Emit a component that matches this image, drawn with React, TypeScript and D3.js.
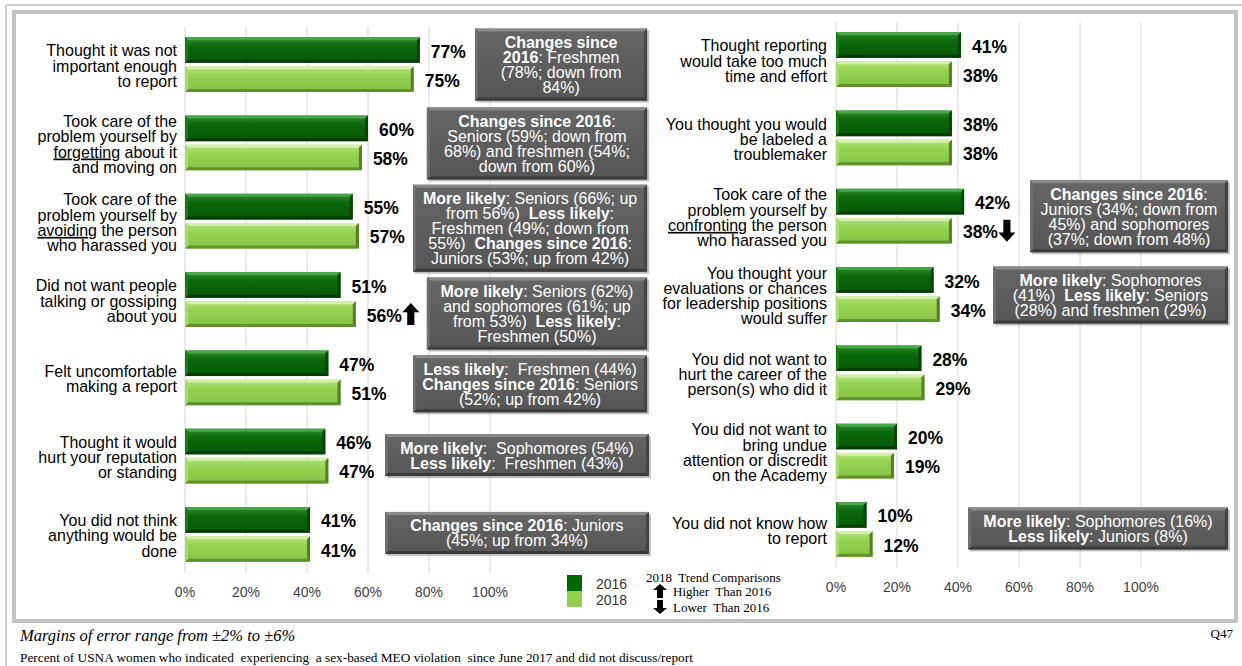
import React from "react";
import * as d3 from "d3";

// ---------- DATA ----------
const seriesNames = ["2016", "2018"];

const leftCategories = [
  ["Thought it was not", "important enough", "to report"],
  ["Took care of the", "problem yourself by", "_forgetting_ about it", "and moving on"],
  ["Took care of the", "problem yourself by", "_avoiding_ the person", "who harassed you"],
  ["Did not want people", "talking or gossiping", "about you"],
  ["Felt uncomfortable", "making a report"],
  ["Thought it would", "hurt your reputation", "or standing"],
  ["You did not think", "anything would be", "done"],
];
const left2016 = [77, 60, 55, 51, 47, 46, 41];
const left2018 = [75, 58, 57, 56, 51, 47, 41];
const leftTrend = ["", "", "", "up", "", "", ""];

const rightCategories = [
  ["Thought reporting", "would take too much", "time and effort"],
  ["You thought you would", "be labeled a", "troublemaker"],
  ["Took care of the", "problem yourself by", "_confronting_ the person", "who harassed you"],
  ["You thought your", "evaluations or chances", "for leadership positions", "would suffer"],
  ["You did not want to", "hurt the career of the", "person(s) who did it"],
  ["You did not want to", "bring undue", "attention or discredit", "on the Academy"],
  ["You did not know how", "to report"],
];
const right2016 = [41, 38, 42, 32, 28, 20, 10];
const right2018 = [38, 38, 38, 34, 29, 19, 12];
const rightTrend = ["", "", "down", "", "", "", ""];

const xTicks = [0, 20, 40, 60, 80, 100];

const leftNotes = [
  ["**Changes since**", "**2016**: Freshmen", "(78%; down from", "84%)"],
  ["**Changes since 2016**:", "Seniors (59%; down from", "68%) and freshmen (54%;", "down from 60%)"],
  ["**More likely**: Seniors (66%; up", "from 56%)  **Less likely**:", "Freshmen (49%; down from", "55%)  **Changes since 2016**:", "Juniors (53%; up from 42%)"],
  ["**More likely**: Seniors (62%)", "and sophomores (61%; up", "from 53%)  **Less likely**:", "Freshmen (50%)"],
  ["**Less likely**:  Freshmen (44%)", "**Changes since 2016**: Seniors", "(52%; up from 42%)"],
  ["**More likely**:  Sophomores (54%)", "**Less likely**:  Freshmen (43%)"],
  ["**Changes since 2016**: Juniors", "(45%; up from 34%)"],
];
const rightNotes = [
  null,
  null,
  ["**Changes since 2016**:", "Juniors (34%; down from", "45%) and sophomores", "(37%; down from 48%)"],
  ["**More likely**: Sophomores", "(41%)  **Less likely**: Seniors", "(28%) and freshmen (29%)"],
  null,
  null,
  ["**More likely**: Sophomores (16%)", "**Less likely**: Juniors (8%)"],
];

// ---------- LAYOUT (annotation placement in axis % units / px offsets) ----------
const leftNoteSpan = [
  [95.1, 151.5, 0],
  [79.3, 151.5, 0.5],
  [74.8, 151.5, 7],
  [79.3, 151.5, 14],
  [74.8, 151.5, 6],
  [65.6, 152.1, -1],
  [65.6, 152.1, -1.5],
];
const rightNoteSpan = [
  null,
  null,
  [63.6, 128.5, 0],
  [51.5, 128.5, 0.5],
  null,
  null,
  [43.3, 128.5, -1],
];

const FONT = "'Liberation Sans', Arial, Helvetica, sans-serif";
const SERIF = "'Liberation Serif', 'Times New Roman', Times, serif";
const SY = 1.05; // slight vertical stretch of the glyphs seen in the reference

const stretch = (yc) => `matrix(1,0,0,${SY},0,${-(SY - 1) * yc})`;

const DARK = { base: "#0b680b", hi: "#2f8f2f", top: "#4aa54a", bottom: "#043a04", right: "#064706", left: "#1a7a1a" };
const LIGHT = { base: "#97d353", hi: "#b5e37f", top: "#d4f0ac", bottom: "#5f922b", right: "#557f22", left: "#a8dc6c" };

function BevelRect({ x, y, w, h, c, gid, b = 3 }) {
  const bb = Math.min(b, w / 2, h / 2);
  return (
    <g>
      <rect x={x} y={y} width={w} height={h} fill={`url(#${gid})`} />
      <polygon points={`${x},${y} ${x + w},${y} ${x + w - bb},${y + bb} ${x + bb},${y + bb}`} fill={c.top} />
      <polygon points={`${x},${y + h} ${x + w},${y + h} ${x + w - bb},${y + h - bb} ${x + bb},${y + h - bb}`} fill={c.bottom} />
      <polygon points={`${x + w},${y} ${x + w},${y + h} ${x + w - bb},${y + h - bb} ${x + w - bb},${y + bb}`} fill={c.right} />
      <polygon points={`${x},${y} ${x},${y + h} ${x + bb},${y + h - bb} ${x + bb},${y + bb}`} fill={c.left} />
    </g>
  );
}

function BlockArrow({ cx, cy, w, h, dir }) {
  const headH = h * 0.42;
  const sw = w * 0.42;
  const top = cy - h / 2;
  const pts = [
    [cx, top],
    [cx + w / 2, top + headH],
    [cx + sw / 2, top + headH],
    [cx + sw / 2, top + h],
    [cx - sw / 2, top + h],
    [cx - sw / 2, top + headH],
    [cx - w / 2, top + headH],
  ];
  const p = dir === "down" ? pts.map(([px, py]) => [px, 2 * cy - py]) : pts;
  return <polygon points={p.map((q) => q.join(",")).join(" ")} fill="#000" />;
}

function richLine(line, key) {
  const parts = line.split(/(\*\*[^*]+\*\*)/).filter((s) => s.length);
  return parts.map((s, i) =>
    s.startsWith("**") ? (
      <tspan key={key + "-" + i} fontWeight="bold">{s.slice(2, -2)}</tspan>
    ) : (
      <tspan key={key + "-" + i}>{s}</tspan>
    )
  );
}

function labelLine(line, key) {
  const parts = line.split(/(_[^_]+_)/).filter((s) => s.length);
  return parts.map((s, i) =>
    s.startsWith("_") ? (
      <tspan key={key + "-" + i} style={{ textDecoration: "underline" }}>{s.slice(1, -1)}</tspan>
    ) : (
      <tspan key={key + "-" + i}>{s}</tspan>
    )
  );
}

function NoteBox({ x0, x1, cy, lines }) {
  const lh = 15;
  const h = lines.length * lh + 12;
  const y = cy - h / 2;
  const w = x1 - x0;
  const b = 3;
  const cx = (x0 + x1) / 2;
  return (
    <g>
      <rect x={x0 + 2} y={y + 2} width={w} height={h} fill="#000" opacity={0.25} />
      <rect x={x0} y={y} width={w} height={h} fill="url(#gBox)" />
      <polygon points={`${x0},${y} ${x1},${y} ${x1 - b},${y + b} ${x0 + b},${y + b}`} fill="#8a8a8a" />
      <polygon points={`${x0},${y + h} ${x1},${y + h} ${x1 - b},${y + h - b} ${x0 + b},${y + h - b}`} fill="#3a3a3a" />
      <polygon points={`${x1},${y} ${x1},${y + h} ${x1 - b},${y + h - b} ${x1 - b},${y + b}`} fill="#444" />
      <polygon points={`${x0},${y} ${x0},${y + h} ${x0 + b},${y + h - b} ${x0 + b},${y + b}`} fill="#6e6e6e" />
      {lines.map((ln, i) => {
        const ty = cy + (i - (lines.length - 1) / 2) * lh;
        return (
          <text
            key={i}
            x={cx}
            y={ty}
            dy="0.36em"
            transform={stretch(ty)}
            textAnchor="middle"
            fill="#fff"
            fontFamily={FONT}
            fontSize={16}
            style={{ whiteSpace: "pre" }}
          >
            {richLine(ln, "n" + i)}
          </text>
        );
      })}
    </g>
  );
}

function Panel({ cats, v16, v18, trend, notes, spans, x0, x1, y0, y1, labelX, tickY, gridTop, gridBottom }) {
  const x = d3.scaleLinear().domain([0, 100]).range([x0, x1]);
  const idx = cats.map((_, i) => i);
  const y = d3.scaleBand().domain(idx).range([y0, y1]).paddingInner(0.3).paddingOuter(0.13);
  const ys = d3.scaleBand().domain(seriesNames).range([0, y.bandwidth()]).paddingInner(0.12);
  const values = { "2016": v16, "2018": v18 };
  const colors = { "2016": DARK, "2018": LIGHT };
  const grads = { "2016": "gDark", "2018": "gLight" };
  return (
    <g>
      {xTicks.map((t) => (
        <g key={t}>
          <line x1={x(t)} x2={x(t)} y1={gridTop} y2={gridBottom} stroke="#d6d6d6" strokeWidth={1} />
          <text x={x(t)} y={tickY} dy="0.35em" transform={stretch(tickY)} textAnchor="middle" fontFamily={FONT} fontSize={14} fill="#404040">
            {t}%
          </text>
        </g>
      ))}
      {idx.map((i) => {
        const cy = y(i) + y.bandwidth() / 2 + 1;
        const lines = cats[i];
        const lh = 15.2 / SY;
        return (
          <text key={"l" + i} transform={stretch(cy)} fontFamily={FONT} fontSize={16} fill="#000" textAnchor="end">
            {lines.map((ln, j) => (
              <tspan key={j} x={labelX} y={cy + (j - (lines.length - 1) / 2) * lh} dy="0.36em">
                {labelLine(ln, "c" + i + "-" + j)}
              </tspan>
            ))}
          </text>
        );
      })}
      {idx.map((i) =>
        seriesNames.map((s) => {
          const v = values[s][i];
          const by = y(i) + ys(s);
          const bh = ys.bandwidth();
          const bx = x(0);
          const bw = x(v) - x(0);
          const lx = x(v) + 11;
          const ly = by + bh / 2 + 1;
          const tr = s === "2018" ? trend[i] : "";
          return (
            <g key={i + s}>
              <BevelRect x={bx} y={by} w={bw} h={bh} c={colors[s]} gid={grads[s]} />
              <text x={lx} y={ly} dy="0.36em" transform={stretch(ly)} fontFamily={FONT} fontSize={17.5} fontWeight="bold" fill="#000">
                {v}%
              </text>
              {tr ? <BlockArrow cx={lx + 44} cy={by + bh / 2} w={17} h={22} dir={tr} /> : null}
            </g>
          );
        })
      )}
      {idx.map((i) =>
        notes[i] ? (
          <NoteBox
            key={"n" + i}
            x0={x(spans[i][0])}
            x1={x(spans[i][1])}
            cy={y(i) + y.bandwidth() / 2 + spans[i][2]}
            lines={notes[i]}
          />
        ) : null
      )}
    </g>
  );
}

export default function App() {
  const W = 1242;
  const H = 666;
  return (
    <div style={{ position: "absolute", left: 0, top: 0, width: W, height: H, background: "#fff" }}>
      <svg width={W} height={H} viewBox={`0 0 ${W} ${H}`} style={{ display: "block" }}>
        <defs>
          <linearGradient id="gDark" x1="0" y1="0" x2="0" y2="1">
            <stop offset="0" stopColor={DARK.hi} />
            <stop offset="0.35" stopColor={DARK.base} />
            <stop offset="1" stopColor="#075807" />
          </linearGradient>
          <linearGradient id="gLight" x1="0" y1="0" x2="0" y2="1">
            <stop offset="0" stopColor={LIGHT.hi} />
            <stop offset="0.35" stopColor={LIGHT.base} />
            <stop offset="1" stopColor="#86c446" />
          </linearGradient>
          <linearGradient id="gBox" x1="0" y1="0" x2="0" y2="1">
            <stop offset="0" stopColor="#666" />
            <stop offset="1" stopColor="#555" />
          </linearGradient>
        </defs>
        <rect x={0} y={0} width={W} height={H} fill="#fff" />
        {/* outer frame */}
        <line x1={6} x2={W} y1={5} y2={5} stroke="#d0d0d0" strokeWidth={2} />
        <line x1={6} x2={6} y1={5} y2={H} stroke="#d0d0d0" strokeWidth={2} />
        {/* inner frame */}
        <rect x={14} y={12} width={1222} height={609} fill="none" stroke="#c3c3c3" strokeWidth={4} />

        <Panel
          cats={leftCategories}
          v16={left2016}
          v18={left2018}
          trend={leftTrend}
          notes={leftNotes}
          spans={leftNoteSpan}
          x0={185}
          x1={490}
          y0={27}
          y1={572}
          labelX={177}
          tickY={592}
          gridTop={27}
          gridBottom={573}
        />
        <Panel
          cats={rightCategories}
          v16={right2016}
          v18={right2018}
          trend={rightTrend}
          notes={rightNotes}
          spans={rightNoteSpan}
          x0={836}
          x1={1141}
          y0={22}
          y1={567}
          labelX={827}
          tickY={587}
          gridTop={22}
          gridBottom={568}
        />

        {/* legend */}
        <rect x={567} y={575} width={15} height={16} fill="#006600" />
        <rect x={567} y={591} width={15} height={16} fill="#92d050" />
        <text x={596} y={584} dy="0.35em" transform={stretch(584)} fontFamily={FONT} fontSize={14} fill="#333">{seriesNames[0]}</text>
        <text x={596} y={600} dy="0.35em" transform={stretch(600)} fontFamily={FONT} fontSize={14} fill="#333">{seriesNames[1]}</text>

        <text x={646} y={577} dy="0.35em" fontFamily={SERIF} fontSize={13} fill="#000" style={{ whiteSpace: "pre" }}>
          2018  Trend Comparisons
        </text>
        <BlockArrow cx={660} cy={591} w={14} h={14} dir="up" />
        <text x={673} y={591} dy="0.35em" fontFamily={SERIF} fontSize={13} fill="#000" style={{ whiteSpace: "pre" }}>Higher  Than 2016</text>
        <BlockArrow cx={660} cy={607} w={14} h={14} dir="down" />
        <text x={673} y={607} dy="0.35em" fontFamily={SERIF} fontSize={13} fill="#000" style={{ whiteSpace: "pre" }}>Lower  Than 2016</text>

        {/* footer */}
        <text x={20} y={635} dy="0.35em" fontFamily={SERIF} fontStyle="italic" fontSize={16.5} fill="#000">
          Margins of error range from ±2% to ±6%
        </text>
        <text x={1233} y={633} dy="0.35em" textAnchor="end" fontFamily={SERIF} fontSize={13} fill="#000">Q47</text>
        <text x={20} y={657} dy="0.35em" fontFamily={SERIF} fontSize={13.3} fill="#000" style={{ whiteSpace: "pre" }}>
          Percent of USNA women who indicated  experiencing  a sex-based MEO violation  since June 2017 and did not discuss/report
        </text>
      </svg>
    </div>
  );
}
